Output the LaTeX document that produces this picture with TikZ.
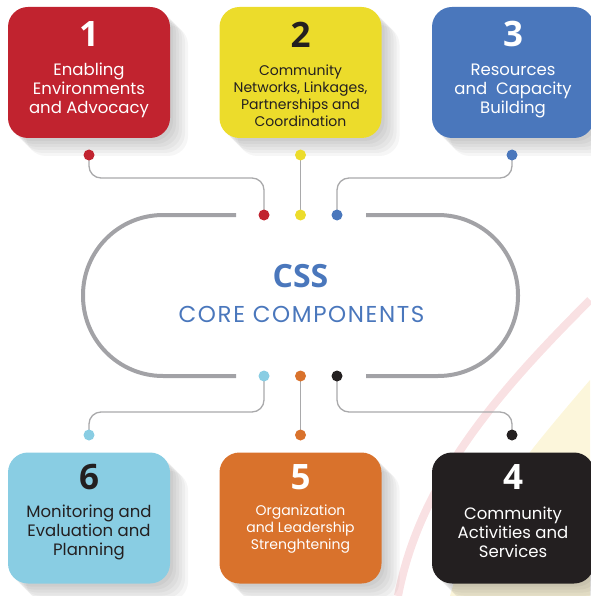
\documentclass[tikz,border=0pt]{standalone}
\usepackage{fontspec}
\setmainfont{Poppins}
\newfontfamily\numfont{Open Sans}
\usetikzlibrary{positioning,shadows}

\definecolor{cssred}{HTML}{C1232F}
\definecolor{cssyellow}{HTML}{ECDC2B}
\definecolor{cssblue}{HTML}{4A77BC}
\definecolor{csssky}{HTML}{89CDE3}
\definecolor{cssorange}{HTML}{D9722C}
\definecolor{cssblack}{HTML}{231F20}
\definecolor{ringgrey}{HTML}{A2A2A6}
\definecolor{linkgrey}{HTML}{A9A9AB}
\definecolor{bgpink}{HTML}{F9E1E3}
\definecolor{bgyellow}{HTML}{FCF6DB}

\tikzset{
  softshadow/.style={general shadow={fill=black, opacity=.035, shadow xshift=#1, shadow yshift=-#1}},
  compbox/.style={rectangle, rounded corners=20pt, minimum width=162pt, minimum height=131pt, inner sep=0pt,
    softshadow=3pt, softshadow=6pt, softshadow=9pt, softshadow=12pt, softshadow=15pt, softshadow=18pt},
  bead/.style={circle, minimum size=11pt, inner sep=0pt},
  link/.style={draw=linkgrey, line width=1.3pt, rounded corners=12pt},
  ring/.style={draw=ringgrey, line width=4pt, rounded corners=80pt},
  num/.style={font=\numfont\bfseries\fontsize{35}{35}\selectfont},
  labelbig/.style={align=center, font=\fontsize{16.5}{19}\selectfont},
  labelsmall/.style={align=center, font=\fontsize{14}{17}\selectfont},
}

\begin{document}
\begin{tikzpicture}[x=1pt, y=-1pt]
    \useasboundingbox (0,0) rectangle (590,596);

    % backdrop
    \fill[bgyellow] (590,380) .. controls (530,450) and (470,520) .. (450,596) -- (590,596) -- cycle;
    \draw[bgpink, line width=8pt] (590,300) .. controls (500,390) and (420,480) .. (398,596);

    % the six component boxes
    \node (b1) [compbox, fill=cssred] at (89,72.5) {};
    \node (b2) [compbox, fill=cssyellow] at (300.5,72.5) {};
    \node (b3) [compbox, fill=cssblue] at (513,72.5) {};
    \node (b6) [compbox, fill=csssky] at (89,518) {};
    \node (b5) [compbox, fill=cssorange] at (300.5,518) {};
    \node (b4) [compbox, fill=cssblack] at (513,518) {};

    \node (n1) [num, white] at (89,34.5) {1};
    \node (t1) [labelbig, white] at (89,90) {Enabling\\Environments\\and Advocacy};
    \node (n2) [num, cssblack] at (300.5,34.5) {2};
    \node (t2) [labelsmall, cssblack] at (300.5,95.5) {Community\\Networks, Linkages,\\Partnerships and\\Coordination};
    \node (n3) [num, white] at (513,34.5) {3};
    \node (t3) [labelbig, white] at (513,90.5) {Resources\\and\ \ Capacity\\Building};
    \node (n6) [num, cssblack] at (89,477) {6};
    \node (t6) [labelbig, cssblack] at (89,532.5) {Monitoring and\\Evaluation and\\Planning};
    \node (n5) [num, white] at (300.5,477) {5};
    \node (t5) [labelsmall, white] at (300.5,529.5) {Organization\\and Leadership\\Strenghtening};
    \node (n4) [num, white] at (513,477) {4};
    \node (t4) [labelbig, white] at (513,532.5) {Community\\Activities and\\Services};

    % centre ring
    \draw[ring] (236,215) -- (83,215) -- (83,376) -- (236,376);
    \draw[ring] (366,215) -- (518,215) -- (518,376) -- (366,376);
    \node (css) [text=cssblue, font=\numfont\bfseries\fontsize{32}{32}\selectfont] at (300.5,276.5) {CSS};
    \node (core) [text=cssblue, font=\fontsize{23}{23}\selectfont\addfontfeatures{LetterSpace=7}] at (301.5,314) {CORE COMPONENTS};

    % beads and the links between them
    \coordinate (u1) at (89,155);
    \coordinate (u2) at (300.5,155);
    \coordinate (u3) at (512,155);
    \coordinate (v1) at (264,215);
    \coordinate (v2) at (300.5,215);
    \coordinate (v3) at (337,215);
    \coordinate (v6) at (264,376);
    \coordinate (v5) at (300.5,376);
    \coordinate (v4) at (337,376);
    \coordinate (u6) at (89,435);
    \coordinate (u5) at (300.5,435);
    \coordinate (u4) at (512,435);

    \draw[link] (u1) -- (89,178) -| (v1);
    \draw[link] (u2) -- (v2);
    \draw[link] (u3) -- (512,178) -| (v3);
    \draw[link] (v6) -- (264,412) -| (u6);
    \draw[link] (v5) -- (u5);
    \draw[link] (v4) -- (337,412) -| (u4);

    \foreach \p/\c in {u1/cssred, v1/cssred, u2/cssyellow, v2/cssyellow, u3/cssblue, v3/cssblue,
                       u6/csssky, v6/csssky, u5/cssorange, v5/cssorange, u4/cssblack, v4/cssblack}
      \node (\p dot) [bead, fill=\c] at (\p) {};
\end{tikzpicture}
\end{document}
